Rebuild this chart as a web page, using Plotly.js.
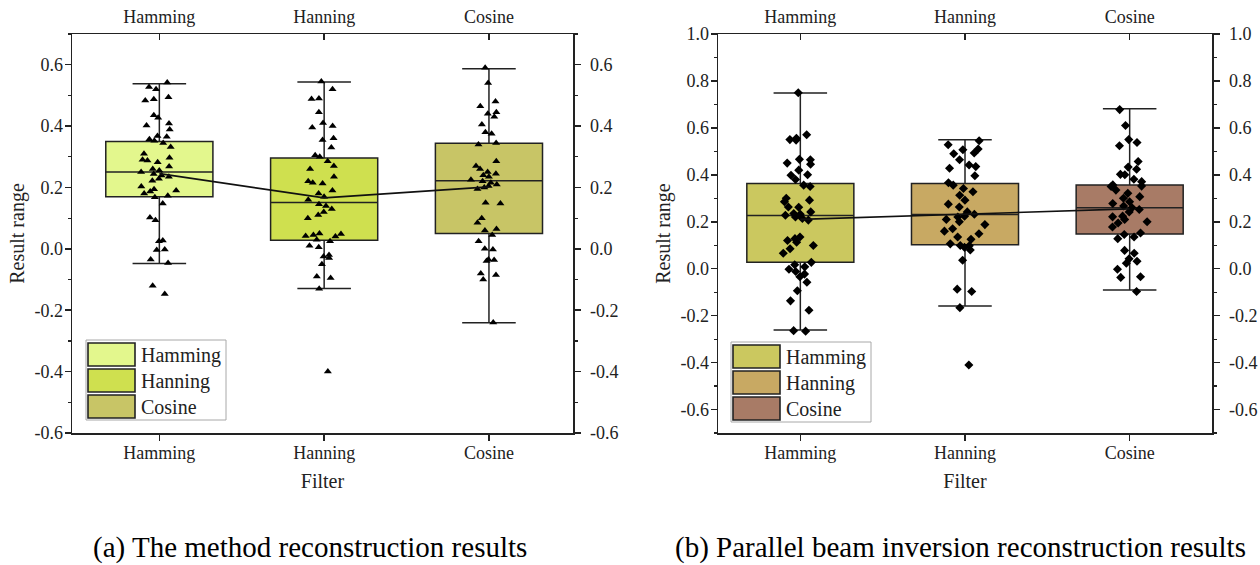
<!DOCTYPE html>
<html>
<head>
<meta charset="utf-8">
<script src="https://cdn.plot.ly/plotly-3.0.1.min.js"></script>
<style>html,body{margin:0;padding:0;background:#fff;}#chart{width:1260px;height:565px;}</style>
</head>
<body>
<div id="chart"></div>
<script>
// ---------- data ----------
const categories = ['Hamming', 'Hanning', 'Cosine'];

// Panel (a): the method reconstruction results
const aHamming = [0.542, 0.527, 0.52, 0.494, 0.487, 0.483, 0.435, 0.427, 0.408, 0.402, 0.389, 0.368, 0.365, 0.357, 0.352, 0.345, 0.332, 0.31, 0.297, 0.29, 0.288, 0.282, 0.268, 0.26, 0.255, 0.25, 0.244, 0.239, 0.235, 0.228, 0.222, 0.203, 0.194, 0.19, 0.187, 0.18, 0.173, 0.168, 0.148, 0.102, 0.093, 0.027, 0.025, -0.002, -0.004, -0.035, -0.046, -0.12, -0.147];
const aHanning = [0.545, 0.52, 0.49, 0.488, 0.445, 0.41, 0.40, 0.395, 0.36, 0.355, 0.33, 0.305, 0.30, 0.285, 0.27, 0.26, 0.235, 0.22, 0.215, 0.213, 0.19, 0.18, 0.17, 0.16, 0.145, 0.14, 0.13, 0.12, 0.11, 0.10, 0.05, 0.048, 0.045, 0.042, 0.04, 0.03, 0.025, 0.01, 0.005, -0.02, -0.025, -0.03, -0.05, -0.09, -0.095, -0.13, -0.4];
const aCosine = [0.59, 0.54, 0.48, 0.465, 0.445, 0.44, 0.43, 0.405, 0.38, 0.375, 0.345, 0.34, 0.285, 0.27, 0.26, 0.25, 0.245, 0.24, 0.235, 0.225, 0.22, 0.215, 0.21, 0.205, 0.2, 0.195, 0.15, 0.148, 0.1, 0.085, 0.065, 0.06, 0.045, 0.025, 0.0, -0.002, -0.035, -0.036, -0.04, -0.08, -0.085, -0.1, -0.24];
const aQ1 = [0.17, 0.028, 0.05];
const aMedian = [0.25, 0.151, 0.222];
const aQ3 = [0.35, 0.296, 0.344];
const aLowerWhisker = [-0.048, -0.129, -0.241];
const aUpperWhisker = [0.538, 0.544, 0.587];
const aMean = [0.245, 0.166, 0.202];

// Panel (b): parallel beam inversion reconstruction results
const bHamming = [0.75, 0.571, 0.556, 0.55, 0.548, 0.466, 0.464, 0.45, 0.445, 0.42, 0.40, 0.398, 0.38, 0.356, 0.35, 0.30, 0.292, 0.285, 0.263, 0.262, 0.242, 0.235, 0.232, 0.228, 0.22, 0.214, 0.207, 0.135, 0.128, 0.12, 0.113, 0.099, 0.085, 0.066, 0.027, 0.017, 0.008, -0.002, -0.012, -0.023, -0.034, -0.058, -0.094, -0.137, -0.177, -0.264, -0.266];
const bHanning = [0.545, 0.528, 0.51, 0.507, 0.493, 0.49, 0.464, 0.442, 0.435, 0.428, 0.396, 0.366, 0.356, 0.342, 0.328, 0.313, 0.292, 0.275, 0.263, 0.242, 0.232, 0.224, 0.22, 0.21, 0.2, 0.188, 0.17, 0.16, 0.149, 0.135, 0.125, 0.106, 0.099, 0.098, 0.091, 0.08, 0.036, -0.087, -0.097, -0.166, -0.41];
const bCosine = [0.678, 0.61, 0.55, 0.538, 0.524, 0.457, 0.433, 0.424, 0.4, 0.402, 0.381, 0.371, 0.357, 0.352, 0.35, 0.335, 0.321, 0.307, 0.3, 0.285, 0.278, 0.267, 0.26, 0.252, 0.242, 0.224, 0.221, 0.21, 0.2, 0.195, 0.178, 0.152, 0.146, 0.135, 0.128, 0.078, 0.066, 0.042, 0.032, 0.023, -0.002, -0.037, -0.034, -0.097];
const bQ1 = [0.028, 0.102, 0.148];
const bMedian = [0.227, 0.231, 0.26];
const bQ3 = [0.363, 0.363, 0.357];
const bLowerWhisker = [-0.261, -0.159, -0.091];
const bUpperWhisker = [0.749, 0.549, 0.681];
const bMean = [0.21, 0.232, 0.255];

// tick labels
const yTickValsA = [-0.6, -0.4, -0.2, 0, 0.2, 0.4, 0.6];
const yTickTextA = ['-0.6', '-0.4', '-0.2', '0.0', '0.2', '0.4', '0.6'];
const yTickValsB = [-0.6, -0.4, -0.2, 0, 0.2, 0.4, 0.6, 0.8, 1.0];
const yTickTextB = ['-0.6', '-0.4', '-0.2', '0.0', '0.2', '0.4', '0.6', '0.8', '1.0'];
const xTitle = 'Filter';
const yTitle = 'Result range';
const captionA = '(a) The method reconstruction results';
const captionB = '(b) Parallel beam inversion reconstruction results';

// ---------- styles ----------
const colorsA = ['#e3f78d', '#cfe04f', '#c8c566'];
const colorsB = ['#cbc85f', '#c8a963', '#a87b66'];
const FONT = 'Liberation Serif, Times New Roman, serif';
const INK = '#222222';
const W = 1260, H = 565;
const px = v => v / W;
const py = v => 1 - v / H;

const traces = [];
function panel(groups, q1, med, q3, lo, hi, means, colors, symbol, xa, ya, xTop, yRight) {
  categories.forEach((c, i) => {
    traces.push({
      type: 'box', x: [c], q1: [q1[i]], median: [med[i]], q3: [q3[i]],
      lowerfence: [lo[i]], upperfence: [hi[i]],
      fillcolor: colors[i], line: {color: INK, width: 1.5},
      boxpoints: false, whiskerwidth: 0.5, width: 0.65,
      xaxis: xa, yaxis: ya, showlegend: false, hoverinfo: 'skip'
    });
  });
  categories.forEach((c, i) => {
    traces.push({
      type: 'box', x: groups[i].map(() => c), y: groups[i],
      boxpoints: 'all', jitter: 0.42, pointpos: 0, width: 0.65,
      fillcolor: 'rgba(0,0,0,0)', line: {color: 'rgba(0,0,0,0)', width: 0},
      marker: {symbol: symbol, size: 7, color: '#000'},
      xaxis: xa, yaxis: ya, showlegend: false, hoverinfo: 'y'
    });
  });
  traces.push({
    type: 'scatter', mode: 'lines', x: categories, y: means,
    line: {color: '#111', width: 1.6}, xaxis: xTop, yaxis: yRight,
    showlegend: false, hoverinfo: 'y'
  });
}
panel([aHamming, aHanning, aCosine], aQ1, aMedian, aQ3, aLowerWhisker, aUpperWhisker, aMean, colorsA, 'triangle-up', 'x', 'y', 'x2', 'y2');
panel([bHamming, bHanning, bCosine], bQ1, bMedian, bQ3, bLowerWhisker, bUpperWhisker, bMean, colorsB, 'diamond', 'x3', 'y3', 'x4', 'y4');

const tickFont = {family: FONT, size: 18, color: INK};
const base = {
  showline: true, linecolor: INK, linewidth: 1.5, showgrid: false, zeroline: false,
  tickfont: tickFont, tickcolor: INK, tickwidth: 1.5, automargin: false, fixedrange: true
};
const yDomain = [py(433), py(34)];
const domA = [px(72), px(573)];
const domB = [px(718), px(1212)];
const xRange = [-0.53, 2.51];
const xRangeB = [-0.5, 2.5];

function xBottom(domain, anchor, range) {
  return Object.assign({}, base, {
    domain: domain, anchor: anchor, type: 'category', categoryorder: 'array', categoryarray: categories,
    range: range, ticks: 'outside', ticklen: 6, ticklabelstandoff: -3,
    title: {text: xTitle, font: {family: FONT, size: 20, color: INK}, standoff: 12}
  });
}
function xTop(over, anchor, range) {
  return Object.assign({}, base, {
    overlaying: over, anchor: anchor, side: 'top', type: 'category', categoryorder: 'array', categoryarray: categories,
    range: range, ticks: 'inside', ticklen: 6, ticklabelstandoff: 2
  });
}
function yLeft(domain, anchor, range, vals, text) {
  return Object.assign({}, base, {
    domain: domain, anchor: anchor, range: range, tickmode: 'array', tickvals: vals, ticktext: text,
    ticks: 'outside', ticklen: 6, ticklabelstandoff: -2,
    minor: {tickmode: 'linear', tick0: 0, dtick: 0.1, ticks: 'outside', ticklen: 3, tickcolor: INK, tickwidth: 1.2},
    title: {text: yTitle, font: {family: FONT, size: 20, color: INK}, standoff: 4}
  });
}
function yRight(over, anchor, range, vals, text) {
  return Object.assign({}, base, {
    overlaying: over, anchor: anchor, side: 'right', range: range, tickmode: 'array', tickvals: vals, ticktext: text,
    ticks: 'outside', ticklen: 6, ticklabelstandoff: 6,
    minor: {tickmode: 'linear', tick0: 0, dtick: 0.1, ticks: 'outside', ticklen: 3, tickcolor: INK, tickwidth: 1.2}
  });
}

// legends drawn as swatches + text
const shapes = [];
const annotations = [];
function legend(x0, y0, colors) {
  shapes.push({type: 'rect', xref: 'paper', yref: 'paper', x0: px(x0), x1: px(x0 + 140), y0: py(y0 + 80), y1: py(y0),
    line: {color: '#a8a8a8', width: 1}, fillcolor: '#ffffff'});
  categories.forEach((c, i) => {
    const top = y0 + 3 + i * 26;
    shapes.push({type: 'rect', xref: 'paper', yref: 'paper', x0: px(x0 + 2), x1: px(x0 + 49), y0: py(top + 23), y1: py(top),
      line: {color: INK, width: 1.6}, fillcolor: colors[i]});
    annotations.push({xref: 'paper', yref: 'paper', x: px(x0 + 53), y: py(top + 12), xanchor: 'left', yanchor: 'middle',
      text: c, showarrow: false, font: {family: FONT, size: 20, color: INK}});
  });
}
legend(86, 340, colorsA);
legend(731, 342, colorsB);

annotations.push({xref: 'paper', yref: 'paper', x: px(310), y: py(547), xanchor: 'center', yanchor: 'middle',
  text: captionA, showarrow: false, font: {family: FONT, size: 29, color: '#000'}});
annotations.push({xref: 'paper', yref: 'paper', x: px(960), y: py(547), xanchor: 'center', yanchor: 'middle',
  text: captionB, showarrow: false, font: {family: FONT, size: 29, color: '#000'}});

const layout = {
  width: W, height: H, margin: {l: 0, r: 0, t: 0, b: 0},
  paper_bgcolor: '#ffffff', plot_bgcolor: '#ffffff',
  boxmode: 'overlay', showlegend: false,
  font: {family: FONT, color: INK},
  xaxis: xBottom(domA, 'y', xRange),
  yaxis: yLeft(yDomain, 'x', [-0.6, 0.7], yTickValsA, yTickTextA),
  xaxis2: xTop('x', 'y', xRange),
  yaxis2: yRight('y', 'x', [-0.6, 0.7], yTickValsA, yTickTextA),
  xaxis3: xBottom(domB, 'y3', xRangeB),
  yaxis3: yLeft(yDomain, 'x3', [-0.7, 1.0], yTickValsB, yTickTextB),
  xaxis4: xTop('x3', 'y3', xRangeB),
  yaxis4: yRight('y3', 'x3', [-0.7, 1.0], yTickValsB, yTickTextB),
  shapes: shapes, annotations: annotations
};

Plotly.newPlot('chart', traces, layout, {staticPlot: true, displayModeBar: false});
</script>
</body>
</html>
